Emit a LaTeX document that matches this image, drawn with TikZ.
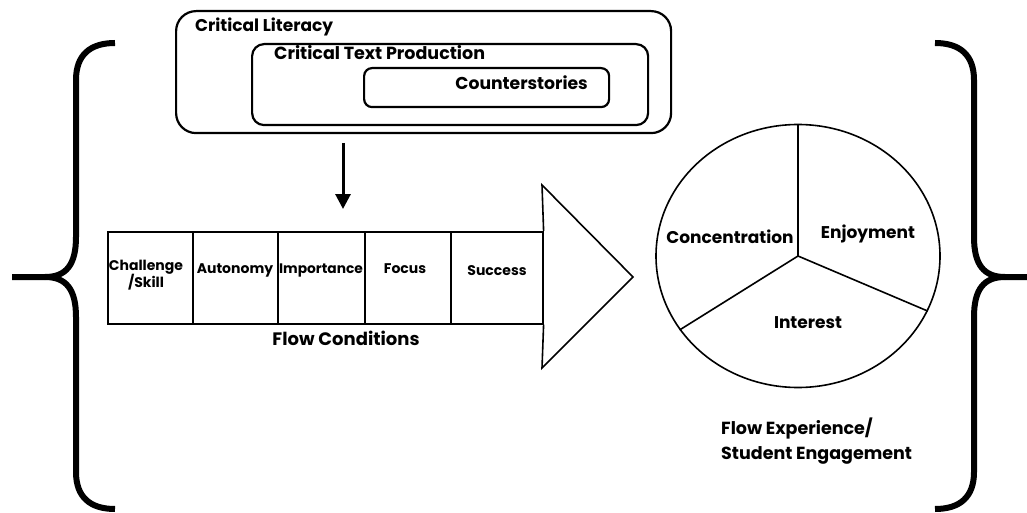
\documentclass[tikz,border=0pt]{standalone}
\usepackage{fontspec}
\setsansfont{Poppins}
\usetikzlibrary{arrows.meta,shapes.geometric}
\begin{document}
\begin{tikzpicture}[x=1pt,y=-1pt]
\tikzset{
  box/.style={draw, line width=2.2pt, inner sep=0pt, anchor=north west},
  cell/.style={draw, line width=1.6pt, minimum height=92pt, inner sep=0pt, anchor=north west},
  lbl/.style={font=\sffamily\bfseries\fontsize{#1}{#1}\selectfont, inner sep=0pt},
  brace/.style={line width=6pt, line cap=butt},
  thin/.style={line width=1.6pt},
}
\useasboundingbox (0,0) rectangle (1027,513);
% nested boxes
\node[box, rounded corners=20pt, minimum width=495pt, minimum height=122pt] (lit) at (175,10) {};
\node[box, rounded corners=12pt, minimum width=396pt, minimum height=81pt] (ctp) at (251,43) {};
\node[box, rounded corners=8pt, minimum width=245pt, minimum height=39pt] (cs) at (363,67) {};
\node[lbl=17, anchor=west] (tlit) at (195,27) {Critical Literacy};
\node[lbl=17.5, anchor=west] (tctp) at (274,53) {Critical Text Production};
\node[lbl=17.2, anchor=east] (tcs) at (588,83) {Counterstories};
% down arrow
\coordinate (ds) at (343,143);
\coordinate (de) at (343,209);
\draw[line width=3pt, -{Triangle[length=15pt,width=15pt]}] (ds) -- (de);
% flow condition cells
\node[cell, minimum width=85pt] (c1) at (107,231) {};
\node[cell, minimum width=85pt] (c2) at (192,231) {};
\node[cell, minimum width=87pt] (c3) at (277,231) {};
\node[cell, minimum width=86pt] (c4) at (364,231) {};
\node[cell, minimum width=92pt] (c5) at (450,231) {};
\coordinate (tip) at (633,277);
\draw[thin, line join=miter] (c5.north east) -- (542,185) -- (tip) -- (542,368) -- (c5.south east);
\node[lbl=14, align=center] (l1) at (146,275) {Challenge\\[-1pt]/Skill};
\node[lbl=14] (l2) at (235,270) {Autonomy};
\node[lbl=13.8] (l3) at (321,270) {Importance};
\node[lbl=14] (l4) at (405,269) {Focus};
\node[lbl=14] (l5) at (497,271) {Success};
\node[lbl=18] (fc) at (346,338) {Flow Conditions};
% pie
\node[draw, ellipse, thin, minimum width=284pt, minimum height=263pt, inner sep=0pt] (pie) at (798,256) {};
\draw[thin] (pie.center) -- (pie.90);
\draw[thin] (pie.center) -- (pie.212);
\draw[thin] (pie.center) -- (pie.337);
\node[lbl=17] (p1) at (730,237) {Concentration};
\node[lbl=17] (p2) at (868,234) {Enjoyment};
\node[lbl=17] (p3) at (808,323) {Interest};
\node[anchor=north west, align=left, inner sep=0pt, font=\sffamily\bfseries\fontsize{17.5}{25}\selectfont] (fe) at (721,418) {Flow Experience/\\Student Engagement};
% braces
\draw[brace] (115,43) .. controls (90,43) and (76,55) .. (76,80) -- (76,237) .. controls (76,265) and (66,277) .. (45,277) -- (12,277);
\draw[brace] (45,277) .. controls (66,277) and (76,289) .. (76,317) -- (76,472) .. controls (76,497) and (90,509) .. (115,509);
\draw[brace] (935,43) .. controls (960,43) and (974,55) .. (974,80) -- (974,237) .. controls (974,265) and (984,277) .. (1005,277) -- (1038,277);
\draw[brace] (1005,277) .. controls (984,277) and (974,289) .. (974,317) -- (974,472) .. controls (974,497) and (960,509) .. (935,509);
\end{tikzpicture}
\end{document}
